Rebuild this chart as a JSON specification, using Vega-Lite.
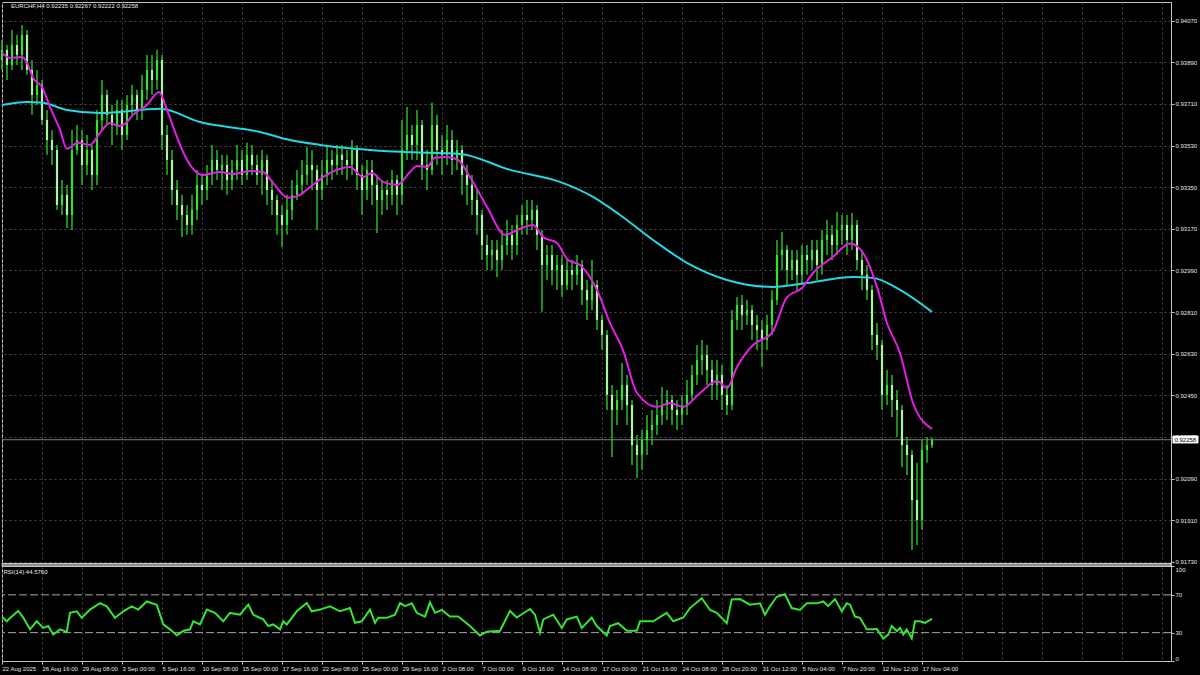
{
"$schema": "https://vega.github.io/schema/vega-lite/v6.json",
"background": "#000000",
"autosize": {"type": "none"},
"padding": {"left": 2, "top": 2, "right": 29, "bottom": 14},
"width": 1169,
"height": 659,
"config": {
  "font": "Liberation Sans",
  "view": {"stroke": "#c4c4c4", "strokeWidth": 1},
  "axis": {"domain": false, "labelColor": "#e4e4e4", "labelFontSize": 6, "labelFont": "Liberation Sans", "tickColor": "#c4c4c4", "tickSize": 3, "gridColor": "#4a4a4a", "gridDash": [2, 3], "gridWidth": 1, "labelOverlap": false, "labelBound": false}
},
"datasets": {
"bars": [
{"i":0,"o":0.93900,"h":0.93987,"l":0.93857,"c":0.93944},
{"i":2,"o":0.93944,"h":0.93965,"l":0.93814,"c":0.93879},
{"i":4,"o":0.93879,"h":0.94030,"l":0.93857,"c":0.93965},
{"i":6,"o":0.93965,"h":0.94009,"l":0.93879,"c":0.93922},
{"i":8,"o":0.93922,"h":0.94052,"l":0.93857,"c":0.94009},
{"i":10,"o":0.94009,"h":0.94030,"l":0.93836,"c":0.93857},
{"i":12,"o":0.93857,"h":0.93900,"l":0.93663,"c":0.93749},
{"i":14,"o":0.93749,"h":0.93857,"l":0.93706,"c":0.93792},
{"i":16,"o":0.93792,"h":0.93814,"l":0.93619,"c":0.93641},
{"i":18,"o":0.93641,"h":0.93684,"l":0.93490,"c":0.93554},
{"i":20,"o":0.93554,"h":0.93598,"l":0.93446,"c":0.93511},
{"i":22,"o":0.93511,"h":0.93533,"l":0.93252,"c":0.93273},
{"i":24,"o":0.93273,"h":0.93381,"l":0.93230,"c":0.93317},
{"i":26,"o":0.93317,"h":0.93360,"l":0.93174,"c":0.93230},
{"i":28,"o":0.93230,"h":0.93598,"l":0.93165,"c":0.93511},
{"i":30,"o":0.93511,"h":0.93619,"l":0.93490,"c":0.93554},
{"i":32,"o":0.93554,"h":0.93598,"l":0.93360,"c":0.93446},
{"i":34,"o":0.93446,"h":0.93576,"l":0.93403,"c":0.93511},
{"i":36,"o":0.93511,"h":0.93533,"l":0.93338,"c":0.93403},
{"i":38,"o":0.93403,"h":0.93684,"l":0.93360,"c":0.93641},
{"i":40,"o":0.93641,"h":0.93814,"l":0.93598,"c":0.93749},
{"i":42,"o":0.93749,"h":0.93771,"l":0.93619,"c":0.93663},
{"i":44,"o":0.93663,"h":0.93706,"l":0.93533,"c":0.93619},
{"i":46,"o":0.93619,"h":0.93727,"l":0.93576,"c":0.93684},
{"i":48,"o":0.93684,"h":0.93727,"l":0.93511,"c":0.93576},
{"i":50,"o":0.93576,"h":0.93749,"l":0.93554,"c":0.93706},
{"i":52,"o":0.93706,"h":0.93792,"l":0.93663,"c":0.93749},
{"i":54,"o":0.93749,"h":0.93771,"l":0.93641,"c":0.93684},
{"i":56,"o":0.93684,"h":0.93836,"l":0.93641,"c":0.93771},
{"i":58,"o":0.93771,"h":0.93922,"l":0.93727,"c":0.93857},
{"i":60,"o":0.93857,"h":0.93922,"l":0.93749,"c":0.93814},
{"i":62,"o":0.93814,"h":0.93944,"l":0.93771,"c":0.93900},
{"i":64,"o":0.93900,"h":0.93922,"l":0.93511,"c":0.93576},
{"i":66,"o":0.93576,"h":0.93619,"l":0.93403,"c":0.93468},
{"i":68,"o":0.93468,"h":0.93511,"l":0.93273,"c":0.93338},
{"i":70,"o":0.93338,"h":0.93381,"l":0.93208,"c":0.93273},
{"i":72,"o":0.93273,"h":0.93317,"l":0.93135,"c":0.93230},
{"i":74,"o":0.93230,"h":0.93273,"l":0.93144,"c":0.93187},
{"i":76,"o":0.93187,"h":0.93317,"l":0.93144,"c":0.93252},
{"i":78,"o":0.93252,"h":0.93425,"l":0.93208,"c":0.93360},
{"i":80,"o":0.93360,"h":0.93403,"l":0.93273,"c":0.93338},
{"i":82,"o":0.93338,"h":0.93446,"l":0.93295,"c":0.93403},
{"i":84,"o":0.93403,"h":0.93533,"l":0.93360,"c":0.93468},
{"i":86,"o":0.93468,"h":0.93511,"l":0.93381,"c":0.93425},
{"i":88,"o":0.93425,"h":0.93490,"l":0.93338,"c":0.93446},
{"i":90,"o":0.93446,"h":0.93490,"l":0.93317,"c":0.93381},
{"i":92,"o":0.93381,"h":0.93468,"l":0.93338,"c":0.93425},
{"i":94,"o":0.93425,"h":0.93533,"l":0.93381,"c":0.93468},
{"i":96,"o":0.93468,"h":0.93511,"l":0.93360,"c":0.93403},
{"i":98,"o":0.93403,"h":0.93542,"l":0.93381,"c":0.93490},
{"i":100,"o":0.93490,"h":0.93533,"l":0.93403,"c":0.93446},
{"i":102,"o":0.93446,"h":0.93490,"l":0.93360,"c":0.93403},
{"i":104,"o":0.93403,"h":0.93511,"l":0.93317,"c":0.93468},
{"i":106,"o":0.93468,"h":0.93490,"l":0.93273,"c":0.93338},
{"i":108,"o":0.93338,"h":0.93381,"l":0.93230,"c":0.93295},
{"i":110,"o":0.93295,"h":0.93317,"l":0.93144,"c":0.93230},
{"i":112,"o":0.93230,"h":0.93273,"l":0.93092,"c":0.93187},
{"i":114,"o":0.93187,"h":0.93317,"l":0.93144,"c":0.93252},
{"i":116,"o":0.93252,"h":0.93381,"l":0.93208,"c":0.93317},
{"i":118,"o":0.93317,"h":0.93425,"l":0.93295,"c":0.93360},
{"i":120,"o":0.93360,"h":0.93468,"l":0.93317,"c":0.93403},
{"i":122,"o":0.93403,"h":0.93524,"l":0.93360,"c":0.93446},
{"i":124,"o":0.93446,"h":0.93511,"l":0.93338,"c":0.93425},
{"i":126,"o":0.93425,"h":0.93446,"l":0.93165,"c":0.93338},
{"i":128,"o":0.93338,"h":0.93468,"l":0.93295,"c":0.93403},
{"i":130,"o":0.93403,"h":0.93533,"l":0.93360,"c":0.93468},
{"i":132,"o":0.93468,"h":0.93511,"l":0.93381,"c":0.93446},
{"i":134,"o":0.93446,"h":0.93533,"l":0.93403,"c":0.93490},
{"i":136,"o":0.93490,"h":0.93533,"l":0.93403,"c":0.93468},
{"i":138,"o":0.93468,"h":0.93511,"l":0.93381,"c":0.93446},
{"i":140,"o":0.93446,"h":0.93554,"l":0.93403,"c":0.93511},
{"i":142,"o":0.93511,"h":0.93533,"l":0.93338,"c":0.93403},
{"i":144,"o":0.93403,"h":0.93446,"l":0.93230,"c":0.93338},
{"i":146,"o":0.93338,"h":0.93468,"l":0.93295,"c":0.93425},
{"i":148,"o":0.93425,"h":0.93468,"l":0.93273,"c":0.93360},
{"i":150,"o":0.93360,"h":0.93403,"l":0.93152,"c":0.93295},
{"i":152,"o":0.93295,"h":0.93381,"l":0.93230,"c":0.93338},
{"i":154,"o":0.93338,"h":0.93381,"l":0.93252,"c":0.93317},
{"i":156,"o":0.93317,"h":0.93425,"l":0.93273,"c":0.93381},
{"i":158,"o":0.93381,"h":0.93403,"l":0.93230,"c":0.93317},
{"i":160,"o":0.93317,"h":0.93641,"l":0.93273,"c":0.93511},
{"i":162,"o":0.93511,"h":0.93697,"l":0.93468,"c":0.93576},
{"i":164,"o":0.93576,"h":0.93619,"l":0.93468,"c":0.93533},
{"i":166,"o":0.93533,"h":0.93684,"l":0.93468,"c":0.93619},
{"i":168,"o":0.93619,"h":0.93641,"l":0.93381,"c":0.93446},
{"i":170,"o":0.93446,"h":0.93511,"l":0.93338,"c":0.93425},
{"i":172,"o":0.93425,"h":0.93715,"l":0.93403,"c":0.93619},
{"i":174,"o":0.93619,"h":0.93663,"l":0.93446,"c":0.93511},
{"i":176,"o":0.93511,"h":0.93576,"l":0.93403,"c":0.93490},
{"i":178,"o":0.93490,"h":0.93619,"l":0.93446,"c":0.93554},
{"i":180,"o":0.93554,"h":0.93598,"l":0.93403,"c":0.93468},
{"i":182,"o":0.93468,"h":0.93554,"l":0.93425,"c":0.93511},
{"i":184,"o":0.93511,"h":0.93533,"l":0.93317,"c":0.93403},
{"i":186,"o":0.93403,"h":0.93446,"l":0.93273,"c":0.93360},
{"i":188,"o":0.93360,"h":0.93403,"l":0.93230,"c":0.93295},
{"i":190,"o":0.93295,"h":0.93338,"l":0.93144,"c":0.93230},
{"i":192,"o":0.93230,"h":0.93252,"l":0.93035,"c":0.93100},
{"i":194,"o":0.93100,"h":0.93144,"l":0.92992,"c":0.93057},
{"i":196,"o":0.93057,"h":0.93122,"l":0.92992,"c":0.93079},
{"i":198,"o":0.93079,"h":0.93122,"l":0.92962,"c":0.93035},
{"i":200,"o":0.93035,"h":0.93165,"l":0.92992,"c":0.93100},
{"i":202,"o":0.93100,"h":0.93208,"l":0.93057,"c":0.93144},
{"i":204,"o":0.93144,"h":0.93187,"l":0.93035,"c":0.93100},
{"i":206,"o":0.93100,"h":0.93230,"l":0.93057,"c":0.93187},
{"i":208,"o":0.93187,"h":0.93273,"l":0.93144,"c":0.93230},
{"i":210,"o":0.93230,"h":0.93295,"l":0.93144,"c":0.93208},
{"i":212,"o":0.93208,"h":0.93295,"l":0.93165,"c":0.93252},
{"i":214,"o":0.93252,"h":0.93273,"l":0.93079,"c":0.93144},
{"i":216,"o":0.93144,"h":0.93165,"l":0.92811,"c":0.93014},
{"i":218,"o":0.93014,"h":0.93100,"l":0.92949,"c":0.93057},
{"i":220,"o":0.93057,"h":0.93100,"l":0.92927,"c":0.92992},
{"i":222,"o":0.92992,"h":0.93057,"l":0.92906,"c":0.93014},
{"i":224,"o":0.93014,"h":0.93057,"l":0.92875,"c":0.92927},
{"i":226,"o":0.92927,"h":0.93035,"l":0.92906,"c":0.92992},
{"i":228,"o":0.92992,"h":0.93035,"l":0.92906,"c":0.92971},
{"i":230,"o":0.92971,"h":0.93057,"l":0.92927,"c":0.93014},
{"i":232,"o":0.93014,"h":0.93035,"l":0.92841,"c":0.92906},
{"i":234,"o":0.92906,"h":0.92949,"l":0.92776,"c":0.92862},
{"i":236,"o":0.92862,"h":0.93035,"l":0.92819,"c":0.92927},
{"i":238,"o":0.92927,"h":0.92949,"l":0.92733,"c":0.92776},
{"i":240,"o":0.92776,"h":0.92798,"l":0.92646,"c":0.92711},
{"i":242,"o":0.92711,"h":0.92733,"l":0.92387,"c":0.92452},
{"i":244,"o":0.92452,"h":0.92495,"l":0.92183,"c":0.92387},
{"i":246,"o":0.92387,"h":0.92473,"l":0.92322,"c":0.92430},
{"i":248,"o":0.92430,"h":0.92590,"l":0.92387,"c":0.92495},
{"i":250,"o":0.92495,"h":0.92538,"l":0.92322,"c":0.92408},
{"i":252,"o":0.92408,"h":0.92430,"l":0.92149,"c":0.92235},
{"i":254,"o":0.92235,"h":0.92279,"l":0.92093,"c":0.92192},
{"i":256,"o":0.92192,"h":0.92300,"l":0.92127,"c":0.92257},
{"i":258,"o":0.92257,"h":0.92365,"l":0.92192,"c":0.92300},
{"i":260,"o":0.92300,"h":0.92387,"l":0.92235,"c":0.92322},
{"i":262,"o":0.92322,"h":0.92430,"l":0.92279,"c":0.92365},
{"i":264,"o":0.92365,"h":0.92486,"l":0.92322,"c":0.92408},
{"i":266,"o":0.92408,"h":0.92473,"l":0.92343,"c":0.92430},
{"i":268,"o":0.92430,"h":0.92452,"l":0.92322,"c":0.92387},
{"i":270,"o":0.92387,"h":0.92430,"l":0.92300,"c":0.92365},
{"i":272,"o":0.92365,"h":0.92452,"l":0.92322,"c":0.92408},
{"i":274,"o":0.92408,"h":0.92516,"l":0.92365,"c":0.92452},
{"i":276,"o":0.92452,"h":0.92581,"l":0.92430,"c":0.92538},
{"i":278,"o":0.92538,"h":0.92668,"l":0.92495,"c":0.92603},
{"i":280,"o":0.92603,"h":0.92689,"l":0.92538,"c":0.92625},
{"i":282,"o":0.92625,"h":0.92668,"l":0.92495,"c":0.92560},
{"i":284,"o":0.92560,"h":0.92603,"l":0.92430,"c":0.92495},
{"i":286,"o":0.92495,"h":0.92603,"l":0.92430,"c":0.92538},
{"i":288,"o":0.92538,"h":0.92581,"l":0.92387,"c":0.92452},
{"i":290,"o":0.92452,"h":0.92495,"l":0.92365,"c":0.92408},
{"i":292,"o":0.92408,"h":0.92819,"l":0.92387,"c":0.92776},
{"i":294,"o":0.92776,"h":0.92875,"l":0.92733,"c":0.92841},
{"i":296,"o":0.92841,"h":0.92884,"l":0.92733,"c":0.92798},
{"i":298,"o":0.92798,"h":0.92862,"l":0.92754,"c":0.92819},
{"i":300,"o":0.92819,"h":0.92841,"l":0.92689,"c":0.92754},
{"i":302,"o":0.92754,"h":0.92798,"l":0.92646,"c":0.92733},
{"i":304,"o":0.92733,"h":0.92776,"l":0.92573,"c":0.92689},
{"i":306,"o":0.92689,"h":0.92798,"l":0.92646,"c":0.92754},
{"i":308,"o":0.92754,"h":0.92906,"l":0.92711,"c":0.92862},
{"i":310,"o":0.92862,"h":0.93122,"l":0.92841,"c":0.93057},
{"i":312,"o":0.93057,"h":0.93157,"l":0.92992,"c":0.93079},
{"i":314,"o":0.93079,"h":0.93100,"l":0.92927,"c":0.92992},
{"i":316,"o":0.92992,"h":0.93079,"l":0.92949,"c":0.93035},
{"i":318,"o":0.93035,"h":0.93079,"l":0.92906,"c":0.92971},
{"i":320,"o":0.92971,"h":0.93100,"l":0.92927,"c":0.93057},
{"i":322,"o":0.93057,"h":0.93100,"l":0.92971,"c":0.93035},
{"i":324,"o":0.93035,"h":0.93122,"l":0.92992,"c":0.93079},
{"i":326,"o":0.93079,"h":0.93122,"l":0.92949,"c":0.93014},
{"i":328,"o":0.93014,"h":0.93165,"l":0.92971,"c":0.93122},
{"i":330,"o":0.93122,"h":0.93208,"l":0.93057,"c":0.93144},
{"i":332,"o":0.93144,"h":0.93187,"l":0.93035,"c":0.93100},
{"i":334,"o":0.93100,"h":0.93243,"l":0.93057,"c":0.93165},
{"i":336,"o":0.93165,"h":0.93230,"l":0.93100,"c":0.93187},
{"i":338,"o":0.93187,"h":0.93230,"l":0.93057,"c":0.93122},
{"i":340,"o":0.93122,"h":0.93239,"l":0.93079,"c":0.93187},
{"i":342,"o":0.93187,"h":0.93208,"l":0.92992,"c":0.93035},
{"i":344,"o":0.93035,"h":0.93079,"l":0.92906,"c":0.92971},
{"i":346,"o":0.92971,"h":0.93014,"l":0.92862,"c":0.92906},
{"i":348,"o":0.92906,"h":0.92927,"l":0.92646,"c":0.92711},
{"i":350,"o":0.92711,"h":0.92763,"l":0.92603,"c":0.92668},
{"i":352,"o":0.92668,"h":0.92689,"l":0.92387,"c":0.92452},
{"i":354,"o":0.92452,"h":0.92560,"l":0.92408,"c":0.92495},
{"i":356,"o":0.92495,"h":0.92538,"l":0.92356,"c":0.92430},
{"i":358,"o":0.92430,"h":0.92473,"l":0.92270,"c":0.92387},
{"i":360,"o":0.92387,"h":0.92408,"l":0.92140,"c":0.92235},
{"i":362,"o":0.92235,"h":0.92270,"l":0.92106,"c":0.92192},
{"i":364,"o":0.92192,"h":0.92214,"l":0.91781,"c":0.91997},
{"i":366,"o":0.91997,"h":0.92158,"l":0.91803,"c":0.91911},
{"i":368,"o":0.91911,"h":0.92257,"l":0.91868,"c":0.92214},
{"i":370,"o":0.92214,"h":0.92270,"l":0.92158,"c":0.92235},
{"i":372,"o":0.92235,"h":0.92267,"l":0.92222,"c":0.92258}
],
"ma20": [
{"i":0,"v":0.93931},{"i":3.2,"v":0.93909},{"i":8,"v":0.93913},{"i":10,"v":0.93888},{"i":12.4,"v":0.93823},{"i":16,"v":0.93784},{"i":19.2,"v":0.93697},{"i":23.2,"v":0.93598},{"i":26,"v":0.93516},{"i":30.4,"v":0.93542},{"i":35.2,"v":0.93533},{"i":39.2,"v":0.93585},{"i":43.2,"v":0.93628},{"i":46.4,"v":0.93615},{"i":49.2,"v":0.93624},{"i":52.4,"v":0.93663},{"i":58,"v":0.93706},{"i":62.8,"v":0.93762},{"i":66,"v":0.93684},{"i":70,"v":0.93567},{"i":74,"v":0.93468},{"i":80.4,"v":0.93403},{"i":87.2,"v":0.93416},{"i":92.4,"v":0.93407},{"i":99.2,"v":0.93420},{"i":104.4,"v":0.93416},{"i":108.4,"v":0.93369},{"i":114.4,"v":0.93304},{"i":119.2,"v":0.93317},{"i":123.2,"v":0.93351},{"i":131.2,"v":0.93412},{"i":139.2,"v":0.93438},{"i":144.4,"v":0.93394},{"i":148,"v":0.93412},{"i":152.4,"v":0.93373},{"i":158,"v":0.93360},{"i":163.2,"v":0.93416},{"i":166,"v":0.93442},{"i":170,"v":0.93438},{"i":173.2,"v":0.93477},{"i":178,"v":0.93481},{"i":182.4,"v":0.93468},{"i":187.2,"v":0.93394},{"i":194,"v":0.93265},{"i":201.2,"v":0.93144},{"i":206,"v":0.93165},{"i":212.4,"v":0.93187},{"i":216.4,"v":0.93135},{"i":222,"v":0.93109},{"i":226.4,"v":0.93035},{"i":231.2,"v":0.93014},{"i":238,"v":0.92906},{"i":243.2,"v":0.92763},{"i":248.4,"v":0.92646},{"i":254,"v":0.92460},{"i":262,"v":0.92400},{"i":267.2,"v":0.92417},{"i":272.4,"v":0.92400},{"i":279.2,"v":0.92460},{"i":286,"v":0.92512},{"i":290,"v":0.92482},{"i":294,"v":0.92573},{"i":300.4,"v":0.92668},{"i":308,"v":0.92720},{"i":314,"v":0.92875},{"i":320,"v":0.92914},{"i":324.4,"v":0.92979},{"i":332.4,"v":0.93049},{"i":339.2,"v":0.93107},{"i":344.4,"v":0.93066},{"i":350,"v":0.92919},{"i":354,"v":0.92763},{"i":359.2,"v":0.92633},{"i":364.4,"v":0.92417},{"i":372,"v":0.92305}
],
"ma100": [
{"i":0,"v":0.93706},{"i":10,"v":0.93719},{"i":16.4,"v":0.93715},{"i":26,"v":0.93684},{"i":39.2,"v":0.93671},{"i":63.2,"v":0.93689},{"i":79.2,"v":0.93632},{"i":103.2,"v":0.93589},{"i":115.2,"v":0.93554},{"i":127.2,"v":0.93533},{"i":159.2,"v":0.93503},{"i":183.2,"v":0.93494},{"i":203.2,"v":0.93425},{"i":223.2,"v":0.93373},{"i":236.4,"v":0.93308},{"i":247.2,"v":0.93230},{"i":260.4,"v":0.93122},{"i":274,"v":0.93023},{"i":290,"v":0.92949},{"i":308.4,"v":0.92919},{"i":322,"v":0.92936},{"i":340.4,"v":0.92962},{"i":348.4,"v":0.92958},{"i":358,"v":0.92914},{"i":372,"v":0.92811}
],
"rsi": [
{"i":0,"r":47},{"i":1.9,"r":42},{"i":3.9,"r":47},{"i":6.5,"r":53},{"i":8.5,"r":46},{"i":11.2,"r":33.5},{"i":13.9,"r":42},{"i":16.5,"r":35},{"i":18.5,"r":37},{"i":20.5,"r":28},{"i":23.2,"r":33.5},{"i":25.9,"r":30.7},{"i":27.2,"r":51},{"i":29.9,"r":52.6},{"i":31.9,"r":45.7},{"i":35.2,"r":54.4},{"i":39.2,"r":61.3},{"i":41.9,"r":57.8},{"i":45.2,"r":45.7},{"i":48.5,"r":52.6},{"i":51.9,"r":57.8},{"i":54.5,"r":54.4},{"i":57.9,"r":63},{"i":61.9,"r":59.6},{"i":64.5,"r":38.7},{"i":67.2,"r":33.5},{"i":69.9,"r":27.2},{"i":72.5,"r":31.7},{"i":75.2,"r":33.5},{"i":76.5,"r":42},{"i":79.2,"r":38.7},{"i":81.9,"r":54.4},{"i":85.2,"r":50.9},{"i":88.5,"r":42},{"i":91.2,"r":50.9},{"i":95.2,"r":49},{"i":98.5,"r":59.6},{"i":100.5,"r":49},{"i":104.5,"r":44},{"i":106.5,"r":37},{"i":108.5,"r":38.7},{"i":111.2,"r":33.5},{"i":112.5,"r":42},{"i":113.9,"r":38.7},{"i":117.9,"r":52.6},{"i":121.9,"r":61.3},{"i":123.9,"r":52.6},{"i":127.2,"r":54.4},{"i":131.2,"r":57.8},{"i":135.2,"r":52.6},{"i":139.2,"r":56},{"i":141.2,"r":40.4},{"i":143.9,"r":42},{"i":147.2,"r":54.4},{"i":149.2,"r":40.4},{"i":150.5,"r":45.7},{"i":153.9,"r":45.7},{"i":157.2,"r":49},{"i":159.2,"r":61.3},{"i":161.2,"r":58},{"i":163.9,"r":61},{"i":165.9,"r":51},{"i":169.2,"r":47},{"i":171.2,"r":62},{"i":173.2,"r":51},{"i":175.9,"r":54},{"i":179.2,"r":47},{"i":182.5,"r":47},{"i":187.2,"r":37},{"i":191.2,"r":27},{"i":193.9,"r":31},{"i":199.2,"r":32},{"i":203.2,"r":53},{"i":205.9,"r":46},{"i":211.2,"r":55},{"i":213.2,"r":49},{"i":215.2,"r":30},{"i":216.5,"r":44},{"i":220.5,"r":49},{"i":223.9,"r":35},{"i":225.9,"r":44},{"i":229.9,"r":47},{"i":231.9,"r":35},{"i":235.9,"r":46},{"i":237.9,"r":37},{"i":241.9,"r":27},{"i":243.2,"r":37},{"i":246.5,"r":40},{"i":249.9,"r":32},{"i":253.9,"r":32},{"i":255.2,"r":42},{"i":260.5,"r":42},{"i":265.9,"r":51},{"i":268.5,"r":42},{"i":272.5,"r":46},{"i":275.2,"r":56},{"i":279.9,"r":66.5},{"i":283.2,"r":54},{"i":285.9,"r":51},{"i":289.9,"r":40},{"i":291.9,"r":65},{"i":295.2,"r":65.5},{"i":299.2,"r":59.6},{"i":303.2,"r":61},{"i":305.2,"r":49},{"i":307.2,"r":58},{"i":309.9,"r":68},{"i":313.2,"r":70.7},{"i":315.9,"r":56},{"i":319.2,"r":54},{"i":321.9,"r":61},{"i":325.9,"r":61},{"i":328.5,"r":63},{"i":330.5,"r":58},{"i":333.2,"r":65.5},{"i":335.9,"r":52.6},{"i":337.9,"r":61},{"i":339.2,"r":59.6},{"i":341.2,"r":47},{"i":343.2,"r":45.7},{"i":345.9,"r":33.5},{"i":348.5,"r":33.5},{"i":349.9,"r":34},{"i":352.5,"r":23.7},{"i":354.5,"r":28},{"i":355.9,"r":37},{"i":357.9,"r":31.7},{"i":359.2,"r":35},{"i":360.5,"r":28},{"i":361.9,"r":33.5},{"i":363.9,"r":24},{"i":365.2,"r":42},{"i":367.2,"r":42},{"i":369.2,"r":40.4},{"i":372,"r":44.6}
]
},
"resolve": {"scale": {"y": "independent"}, "axis": {"y": "independent"}},
"layer": [
{
  "layer": [
    {"data": {"values": [{"p": 0.92258}]}, "mark": {"type": "rule", "color": "#808080", "strokeWidth": 1},
     "encoding": {"y": {"field": "p", "type": "quantitative", "scale": {"domain": [0.913012, 0.94151], "nice": false, "zero": false},
       "axis": {"orient": "right", "title": null, "format": ".5f", "grid": true, "tickSize": 3, "labelPadding": 1, "labelFlush": false,
         "values": [0.9173,0.9182,0.9191,0.92,0.9209,0.9218,0.9227,0.9236,0.9245,0.9254,0.9263,0.9272,0.9281,0.929,0.9299,0.9308,0.9317,0.9326,0.9335,0.9344,0.9353,0.9362,0.9371,0.938,0.9389,0.9398,0.9407]}}}},
    {"data": {"name": "bars"}, "mark": {"type": "rule", "strokeWidth": 1.5, "color": "#26bd26"},
     "encoding": {"x": {"field": "i", "type": "quantitative", "scale": {"domain": [0, 467.6], "nice": false, "zero": false},
       "axis": {"orient": "bottom", "title": null, "grid": true, "labelAlign": "left", "labelBaseline": "top", "labelPadding": 1, "tickSize": 3, "labelFlush": false,
         "tickOpacity": {"condition": {"test": "datum.value % 16 === 0 && datum.value <= 368", "value": 1}, "value": 0},
         "labelExpr": "datum.value % 16 === 0 && datum.value <= 368 ? ['22 Aug 2025','26 Aug 16:00','29 Aug 08:00','3 Sep 00:00','5 Sep 16:00','10 Sep 08:00','15 Sep 00:00','17 Sep 16:00','22 Sep 08:00','25 Sep 00:00','29 Sep 16:00','2 Oct 08:00','7 Oct 00:00','9 Oct 16:00','14 Oct 08:00','17 Oct 00:00','21 Oct 16:00','24 Oct 08:00','28 Oct 20:00','31 Oct 12:00','5 Nov 04:00','7 Nov 20:00','12 Nov 12:00','17 Nov 04:00'][datum.value / 16] : ''",
         "values": [0,8,16,24,32,40,48,56,64,72,80,88,96,104,112,120,128,136,144,152,160,168,176,184,192,200,208,216,224,232,240,248,256,264,272,280,288,296,304,312,320,328,336,344,352,360,368,376,384,392,400,408,416,424,432,440,448,456,464]}},
       "y": {"field": "l", "type": "quantitative"}, "y2": {"field": "h"}}},
    {"data": {"name": "bars"}, "mark": {"type": "rule", "strokeWidth": 2.2, "strokeCap": "butt"},
     "encoding": {"x": {"field": "i", "type": "quantitative"}, "y": {"field": "o", "type": "quantitative"}, "y2": {"field": "c"},
       "color": {"condition": {"test": "datum.c < datum.o", "value": "#adf2a6"}, "value": "#35e035"}}},
    {"data": {"name": "ma100"}, "mark": {"type": "line", "color": "#26d6e3", "strokeWidth": 2, "interpolate": "monotone"},
     "encoding": {"x": {"field": "i", "type": "quantitative"}, "y": {"field": "v", "type": "quantitative"}}},
    {"data": {"name": "ma20"}, "mark": {"type": "line", "color": "#e51ee5", "strokeWidth": 2, "interpolate": "monotone"},
     "encoding": {"x": {"field": "i", "type": "quantitative"}, "y": {"field": "v", "type": "quantitative"}}},
    {"data": {"values": [{"i1": 468.2, "i2": 478.6, "lo": 0.92242, "hi": 0.92276}]}, "mark": {"type": "rect", "color": "#ffffff"},
     "encoding": {"x": {"field": "i1", "type": "quantitative"}, "x2": {"field": "i2"}, "y": {"field": "lo", "type": "quantitative"}, "y2": {"field": "hi"}}},
    {"data": {"values": [{"i": 469, "p": 0.92258, "t": "0.92258"}]}, "mark": {"type": "text", "align": "left", "baseline": "middle", "color": "#000000", "fontSize": 6, "font": "Liberation Sans"},
     "encoding": {"x": {"field": "i", "type": "quantitative"}, "y": {"field": "p", "type": "quantitative"}, "text": {"field": "t"}}},
    {"data": {"values": [{"i": 3.6, "p": 0.94134, "t": "EURCHF,H4  0.92235 0.92267 0.92222 0.92258"}]}, "mark": {"type": "text", "align": "left", "baseline": "middle", "color": "#ececec", "fontSize": 6, "font": "Liberation Sans"},
     "encoding": {"x": {"field": "i", "type": "quantitative"}, "y": {"field": "p", "type": "quantitative"}, "text": {"field": "t"}}}
  ]
},
{
  "layer": [
    {"data": {"values": [{"a": 100, "b": 103.2}]}, "mark": {"type": "rect", "fill": "#8c8c8c", "stroke": "#c8c8c8", "strokeWidth": 1},
     "encoding": {"y": {"field": "a", "type": "quantitative", "scale": {"domain": [0, 697.35], "nice": false, "zero": false},
       "axis": {"orient": "right", "title": null, "values": [0, 30, 70, 100], "grid": false, "labelFlush": false, "tickSize": 3, "labelPadding": 1,
         "labelBaseline": {"condition": {"test": "datum.value === 100", "value": "top"}, "value": "middle"},
         "labelOffset": {"condition": {"test": "datum.value === 0", "value": -3}, "value": 0}}},
       "y2": {"field": "b"}}},
    {"data": {"values": [{"v": 30}, {"v": 70}]}, "mark": {"type": "rule", "color": "#a8a8a8", "strokeDash": [8, 3], "strokeWidth": 1},
     "encoding": {"y": {"field": "v", "type": "quantitative"}}},
    {"data": {"name": "rsi"}, "mark": {"type": "line", "color": "#36e436", "strokeWidth": 2},
     "encoding": {"x": {"field": "i", "type": "quantitative"}, "y": {"field": "r", "type": "quantitative"}}},
    {"data": {"values": [{"i": 0.6, "r": 94.5, "t": "RSI(14) 44.5760"}]}, "mark": {"type": "text", "align": "left", "baseline": "middle", "color": "#ececec", "fontSize": 6, "font": "Liberation Sans"},
     "encoding": {"x": {"field": "i", "type": "quantitative"}, "y": {"field": "r", "type": "quantitative"}, "text": {"field": "t"}}}
  ]
}
]
}
